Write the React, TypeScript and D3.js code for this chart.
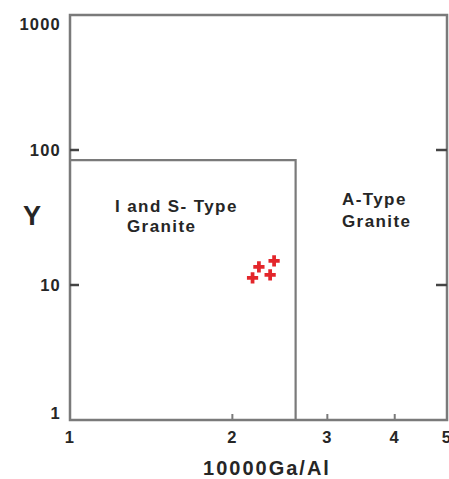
import React from 'react';
import * as d3 from 'd3';

// sample points (10000Ga/Al, Y)
const gaAl = [2.24, 2.39, 2.18, 2.35];
const yVals = [13.6, 15.1, 11.3, 11.9];

const xTicks = [1, 2, 3, 4, 5];
const yTicks = [1, 10, 100, 1000];
const innerTicksX = [2, 3, 4];
const innerTicksY = [10, 100];

// I and S-type field boundary
const boxX = [1, 2.62];
const boxY = [1, 84];

const W = 449;
const H = 479;
const margin = { top: 15, right: 2, bottom: 59, left: 70 };

const App: React.FC = () => {
  const x = d3.scaleLog().domain([1, 5]).range([margin.left, W - margin.right]);
  const y = d3.scaleLog().domain([1, 1000]).range([H - margin.bottom, margin.top]);
  const axisColor = '#7a7a7a';
  const textColor = '#262626';
  const font = 'Arial, "Liberation Sans", sans-serif';

  const x0 = x(1), x1 = x(5), y0 = y(1), y1 = y(1000);
  const plus = d3.symbol().type(d3.symbolCross).size(70)();

  return (
    <svg width={W} height={H} style={{ position: 'absolute', left: 0, top: 0 }}>
      <rect x={x0} y={y1} width={x1 - x0} height={y0 - y1} fill="none" stroke={axisColor} strokeWidth={2.5} />

      {/* boundary */}
      <path
        d={`M${x(boxX[0])},${y(boxY[1])}H${x(boxX[1])}V${y(boxY[0])}`}
        fill="none"
        stroke={axisColor}
        strokeWidth={2.2}
      />

      {innerTicksX.map(t => (
        <line key={'bx' + t} x1={x(t)} x2={x(t)} y1={y0} y2={y0 - 6} stroke={axisColor} strokeWidth={2} />
      ))}
      {innerTicksY.map(t => (
        <g key={'ty' + t}>
          <line x1={x0} x2={x0 + 9} y1={y(t)} y2={y(t)} stroke="#444" strokeWidth={2.5} />
          <line x1={x1} x2={x1 - 11} y1={y(t)} y2={y(t)} stroke="#444" strokeWidth={2.5} />
        </g>
      ))}

      <g fontFamily={font} fontWeight="bold" fill={textColor} fontSize={16.5} letterSpacing={1.2}>
        {xTicks.map(t => (
          <text key={'xl' + t} x={x(t)} y={443} textAnchor="middle">{t}</text>
        ))}
        {yTicks.map(t => {
          const yy = Math.min(Math.max(y(t), y1 + 9), y0 - 7);
          return (
            <text key={'yl' + t} x={x0 - 9} y={yy} dy="0.36em" textAnchor="end">{t}</text>
          );
        })}
      </g>

      <text x={32} y={225} fontFamily={font} fontWeight="bold" fontSize={27} fill={textColor} textAnchor="middle">Y</text>
      <text x={267} y={475} fontFamily={font} fontWeight="bold" fontSize={20} letterSpacing={2} fill={textColor} textAnchor="middle">10000Ga/Al</text>

      <g fontFamily={font} fontWeight="bold" fontSize={17} letterSpacing={1.4} fill={textColor}>
        <text x={115} y={212}>I and S- Type</text>
        <text x={127} y={232}>Granite</text>
        <text x={342} y={205}>A-Type</text>
        <text x={342} y={227}>Granite</text>
      </g>

      {gaAl.map((v, i) => (
        <path key={i} d={plus!} transform={`translate(${x(v)},${y(yVals[i])})`} fill="#e3262b" />
      ))}
    </svg>
  );
};

export default App;
